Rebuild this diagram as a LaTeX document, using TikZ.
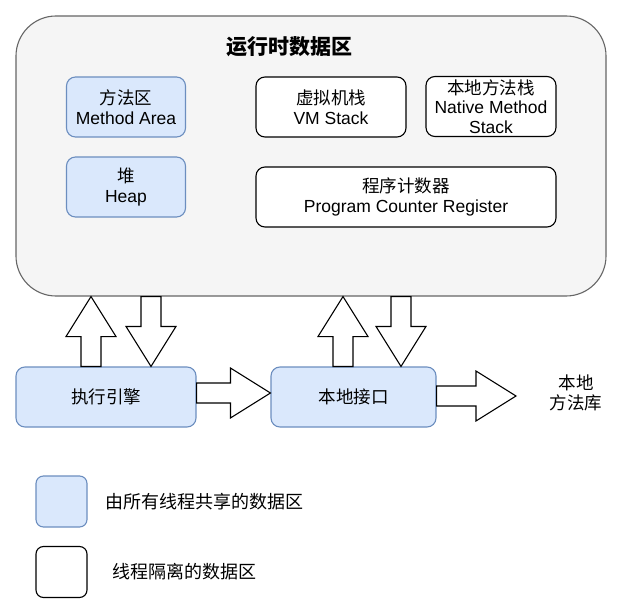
\documentclass[tikz,border=0pt]{standalone}
\usepackage{fontspec}
\setmainfont{Liberation Sans}
\newfontfamily\cjk{Noto Sans CJK SC}
\usetikzlibrary{calc}
\definecolor{boxgray}{HTML}{F5F5F5}
\definecolor{boxgrayline}{HTML}{666666}
\definecolor{shared}{HTML}{DAE8FC}
\definecolor{sharedline}{HTML}{6C8EBF}
\tikzset{
  basebox/.style={draw, line width=1.1pt, align=center, inner sep=0pt,
    font=\fontsize{17.5}{20.5}\selectfont},
  sharedbox/.style={basebox, fill=shared, draw=sharedline, rounded corners=9pt},
  privbox/.style={basebox, fill=white, draw=black, rounded corners=9pt},
  blk/.style={draw=black, fill=white, line width=1.1pt, line join=miter},
  legtext/.style={anchor=west, inner sep=0pt, font=\fontsize{18}{22}\selectfont\cjk},
}
\newcommand\blockarrow[2]{%
  \coordinate (hb) at ($(#2)!40pt!(#1)$);
  \draw[blk] ($(#1)!10pt!90:(#2)$) -- ($(hb)!10pt!-90:(#1)$) -- ($(hb)!25pt!-90:(#1)$)
    -- (#2) -- ($(hb)!25pt!90:(#1)$) -- ($(hb)!10pt!90:(#1)$)
    -- ($(#1)!10pt!-90:(#2)$) -- cycle;}
\begin{document}
\begin{tikzpicture}[x=1pt,y=-1pt]
\useasboundingbox (0,0) rectangle (643,615);
% main area
\node[draw=boxgrayline, fill=boxgray, line width=1.1pt, rounded corners=40pt,
  minimum width=590pt, minimum height=280pt] (main) at (311,156) {};
\node[font=\fontsize{21}{24}\selectfont\cjk\bfseries] (title) at (289.5,47) {运行时数据区};
\node[sharedbox, minimum width=119pt, minimum height=60pt] (method) at (126,107) {{\cjk 方法区}\\Method Area};
\node[sharedbox, minimum width=119pt, minimum height=60pt] (heap) at (126,187) {{\cjk 堆}\\Heap};
\node[privbox, minimum width=150pt, minimum height=60pt] (vms) at (331,107) {{\cjk 虚拟机栈}\\VM Stack};
\node[privbox, minimum width=130pt, minimum height=60pt, font=\fontsize{17.5}{19.5}\selectfont] (nms) at (491,106.5) {{\cjk 本地方法栈}\\Native Method\\Stack};
\node[privbox, minimum width=300pt, minimum height=60pt] (pc) at (406,197) {{\cjk 程序计数器}\\Program Counter Register};
% bottom row
\node[sharedbox, minimum width=180pt, minimum height=60pt] (engine) at (106,397) {\cjk 执行引擎};
\node[sharedbox, minimum width=165pt, minimum height=60pt] (iface) at (353.5,397) {\cjk 本地接口};
\node[align=center, font=\fontsize{17.5}{20.5}\selectfont\cjk] (lib) at (576,393) {本地\\方法库};
% block arrows
\coordinate (u1a) at ([xshift=-15pt]engine.north);
\coordinate (u1b) at (u1a |- main.south);
\blockarrow{u1a}{u1b}
\coordinate (d1b) at ([xshift=45pt]engine.north);
\coordinate (d1a) at (d1b |- main.south);
\blockarrow{d1a}{d1b}
\coordinate (u2a) at ([xshift=-10.5pt]iface.north);
\coordinate (u2b) at (u2a |- main.south);
\blockarrow{u2a}{u2b}
\coordinate (d2b) at ([xshift=47.5pt]iface.north);
\coordinate (d2a) at (d2b |- main.south);
\blockarrow{d2a}{d2b}
\coordinate (r1a) at ([yshift=4pt]engine.east);
\coordinate (r1b) at (iface.west |- r1a);
\blockarrow{r1a}{r1b}
\coordinate (r2a) at ([yshift=1pt]iface.east);
\coordinate (r2b) at (516,396);
\blockarrow{r2a}{r2b}
% legend
\node[sharedbox, rounded corners=7.5pt, minimum width=51pt, minimum height=51pt] (leg1) at (61.5,501.5) {};
\node[privbox, rounded corners=7.5pt, minimum width=51pt, minimum height=51pt] (leg2) at (61.5,572) {};
\node[legtext] (leg1t) at (105,502) {由所有线程共享的数据区};
\node[legtext] (leg2t) at (112,572) {线程隔离的数据区};
\end{tikzpicture}
\end{document}
